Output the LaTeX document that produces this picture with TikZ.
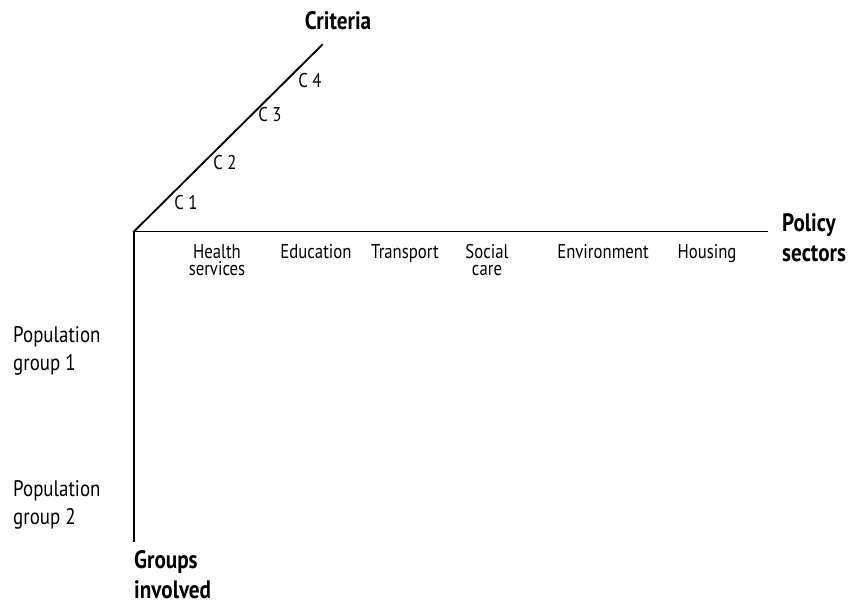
\documentclass[tikz,border=0pt]{standalone}
\usepackage{fontspec}
\setmainfont{PT Sans}[FakeStretch=0.84]
\usepackage{tikz}

\begin{document}
\begin{tikzpicture}[x=1cm,y=1cm,
  axis/.style={line width=1.6pt,line cap=rect},
  sector/.style={anchor=north,align=center,inner sep=0pt,font=\fontsize{17}{14.5}\selectfont},
  critlabel/.style={anchor=base,inner sep=0pt,font=\fontsize{17}{12.5}\selectfont},
  groupname/.style={anchor=north west,align=left,inner sep=0pt,font=\fontsize{19.2}{24}\selectfont},
  axistitle/.style={inner sep=0pt,align=left,font=\fontsize{21.5}{25.5}\selectfont\bfseries}]
\path[use as bounding box] (0,0) rectangle (25.65,18.18);
\coordinate (origin) at (4.02,11.235);
\coordinate (critend) at (9.66,16.83);
\coordinate (sectend) at (23.01,11.235);
\coordinate (groupend) at (4.02,1.935);
\draw[axis] (origin) -- (critend);
\draw[axis] (origin) -- (sectend);
\draw[axis] (origin) -- (groupend);
\node[axistitle,anchor=base] (criteria) at (10.14,17.28) {Criteria};
\node[axistitle,anchor=north west] (policy) at (23.46,11.79) {Policy\\sectors};
\node[axistitle,anchor=north west] (groups) at (4.02,1.68) {Groups\\involved};
\node[critlabel] (c1) at (5.58,11.90) {C 1};
\node[critlabel] (c2) at (6.75,13.08) {C 2};
\node[critlabel] (c3) at (8.10,14.54) {C 3};
\node[critlabel] (c4) at (9.30,15.56) {C 4};
\node[sector] (health) at (6.51,10.86) {Health\\services};
\node[sector] (education) at (9.48,10.86) {Education};
\node[sector] (transport) at (12.15,10.86) {Transport};
\node[sector] (social) at (14.61,10.86) {Social\\care};
\node[sector] (environment) at (18.09,10.86) {Environment};
\node[sector] (housing) at (21.21,10.86) {Housing};
\node[groupname] (pop1) at (0.39,8.40) {Population\\group 1};
\node[groupname] (pop2) at (0.39,3.78) {Population\\group 2};
\end{tikzpicture}
\end{document}
